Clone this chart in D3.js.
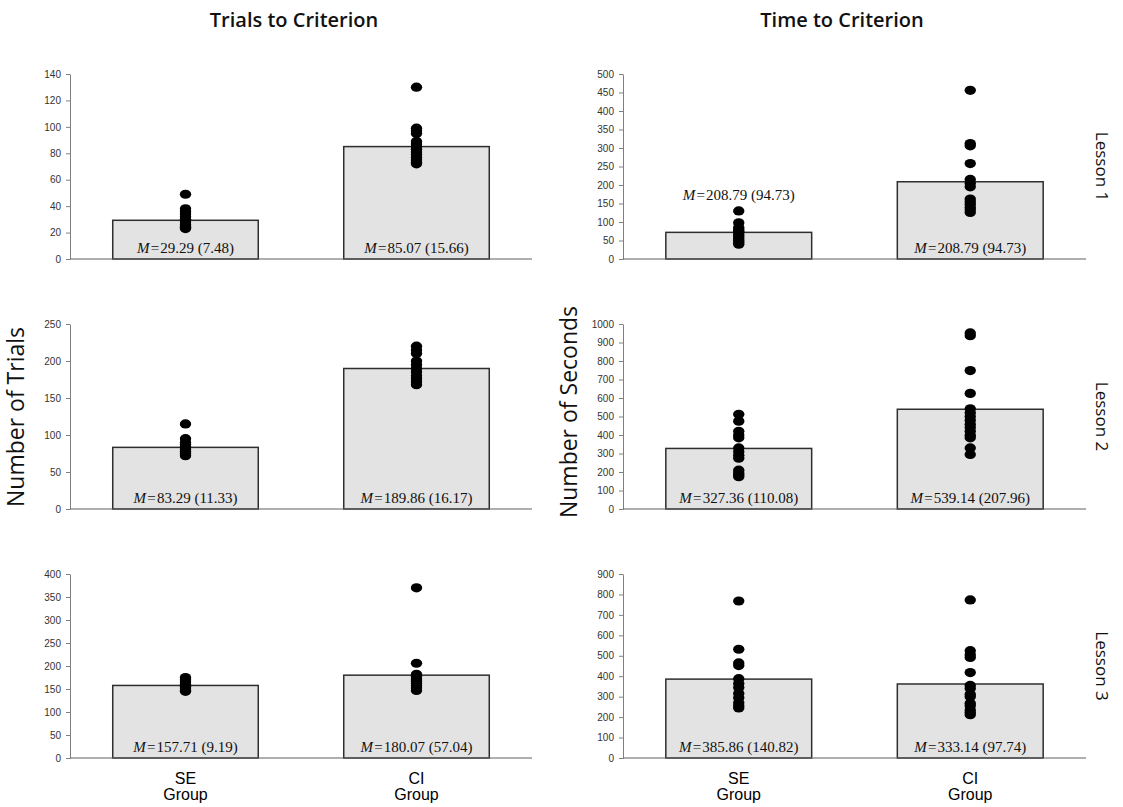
<!DOCTYPE html>
<html>
<head>
<meta charset="utf-8">
<script src="https://cdn.jsdelivr.net/npm/d3@7"></script>
<style>
    body { margin: 0; background: #fff; }
    .axis text { font: 10px "Liberation Sans", Arial, sans-serif; fill: #333; }
    .axis path, .axis line { stroke: #808080; }
</style>
</head>
<body>
<div id="chart"></div>
<script>
const groups = ["SE", "CI"]
const lessons = ["Lesson 1", "Lesson 2", "Lesson 3"]
const columns = ["Trials to Criterion", "Time to Criterion"]
const y_titles = ["Number of Trials", "Number of Seconds"]

// y axis max and tick step per lesson
const trials_max = [140, 250, 400]
const trials_step = [20, 50, 50]
const time_max = [500, 1000, 900]
const time_step = [50, 100, 100]

// bar heights (SE, CI)
const trials_bars = [[29.29, 85.07], [83.29, 189.86], [157.71, 180.07]]
const time_bars = [[72, 208.79], [327.36, 539.14], [385.86, 362]]

// mean (sd) text inside each bar
const trials_text = [["29.29 (7.48)", "85.07 (15.66)"], ["83.29 (11.33)", "189.86 (16.17)"], ["157.71 (9.19)", "180.07 (57.04)"]]
const time_text = [[null, "208.79 (94.73)"], ["327.36 (110.08)", "539.14 (207.96)"], ["385.86 (140.82)", "333.14 (97.74)"]]
// label printed above the SE bar instead (lesson 1 time panel)
const time_extra_text = ["208.79 (94.73)", null, null]

// individual scores
const trials1_se = [49, 38, 36, 34, 32, 30, 28, 26, 25, 24, 23]
const trials1_ci = [130, 99, 97, 95, 89, 87, 85, 83, 81, 79, 77, 75, 73, 72]
const trials2_se = [115, 95, 90, 87, 84, 81, 78, 75, 72]
const trials2_ci = [220, 215, 210, 200, 195, 190, 185, 180, 176, 172, 168]
const trials3_se = [175, 170, 165, 160, 156, 152, 148, 145]
const trials3_ci = [370, 206, 182, 177, 172, 167, 162, 157, 152, 147]

const time1_se = [130, 98, 85, 80, 75, 70, 65, 60, 55, 50, 45, 40]
const time1_ci = [456, 312, 306, 258, 215, 205, 195, 162, 155, 148, 140, 133, 126]
const time2_se = [512, 475, 420, 400, 385, 330, 310, 290, 275, 210, 195, 185, 175]
const time2_ci = [952, 937, 748, 625, 542, 520, 500, 480, 458, 440, 420, 398, 385, 330, 295]
const time3_se = [768, 532, 465, 452, 388, 365, 345, 315, 295, 270, 255, 245]
const time3_ci = [773, 525, 505, 492, 418, 355, 340, 312, 300, 268, 255, 235, 222, 212]

const trials_dots = [[trials1_se, trials1_ci], [trials2_se, trials2_ci], [trials3_se, trials3_ci]]
const time_dots = [[time1_se, time1_ci], [time2_se, time2_ci], [time3_se, time3_ci]]

const width = 1123, height = 807
const serif_font = "15px 'Liberation Serif', 'Times New Roman', serif"

const svg = d3.select("#chart").append("svg")
    .attr("width", width)
    .attr("height", height)

// panel frames: x range of each column, y range (bottom, top) of each row
const col_x = [[70, 532], [623, 1086]]
const row_y = [[259, 74], [509, 324], [758, 574]]

function mean_label(g, cx, cy, txt) {
    const t = g.append("text")
        .attr("x", cx)
        .attr("y", cy)
        .attr("text-anchor", "middle")
        .style("font", serif_font)
        .attr("fill", "#111")
    t.append("tspan").style("font-style", "italic").text("M")
    t.append("tspan").text("\u200a=\u200a" + txt)
}

function draw_panel(col, row, ymax, ystep, bars, texts, dots, extra) {
    const g = svg.append("g")

    const x = d3.scaleBand()
        .domain(groups)
        .range(col_x[col])
        .paddingInner(0.37)
        .paddingOuter(0.185)

    const y = d3.scaleLinear()
        .domain([0, ymax])
        .range(row_y[row])

    g.selectAll("rect.bar")
        .data(groups)
        .enter()
        .append("rect")
        .attr("class", "bar")
        .attr("x", d => x(d))
        .attr("y", (d, i) => y(bars[i]))
        .attr("width", x.bandwidth())
        .attr("height", (d, i) => y(0) - y(bars[i]))
        .attr("fill", "#e3e3e3")
        .attr("stroke", "#2e2e2e")
        .attr("stroke-width", 1.5)

    const yaxis = d3.axisLeft(y)
        .tickValues(d3.range(0, ymax + 1, ystep))
        .tickFormat(d3.format("d"))
        .tickSize(4)
        .tickSizeOuter(0)
        .tickPadding(5)

    g.append("g")
        .attr("class", "axis")
        .attr("transform", "translate(" + col_x[col][0] + ",0)")
        .call(yaxis)

    g.append("line")
        .attr("x1", col_x[col][0])
        .attr("x2", col_x[col][1])
        .attr("y1", y(0))
        .attr("y2", y(0))
        .attr("stroke", "#606060")
        .attr("stroke-width", 1.2)

    groups.forEach((grp, i) => {
        const cx = x(grp) + x.bandwidth() / 2
        g.selectAll("ellipse.g" + i)
            .data(dots[i])
            .enter()
            .append("ellipse")
            .attr("class", "g" + i)
            .attr("cx", cx)
            .attr("cy", d => y(d))
            .attr("rx", 5.7)
            .attr("ry", 4.6)
            .attr("fill", "#000")

        if (texts[i]) mean_label(g, cx, y(0) - 6, texts[i])
    })

    // the stray label over the SE bar
    if (extra) {
        mean_label(g, x("SE") + x.bandwidth() / 2, y(d3.max(dots[0])) - 11, extra)
    }

    // group names under the bottom row
    if (row === 2) {
        groups.forEach(grp => {
            const cx = x(grp) + x.bandwidth() / 2
            g.append("text")
                .attr("x", cx)
                .attr("y", y(0) + 26)
                .attr("text-anchor", "middle")
                .style("font", "16px 'Liberation Sans', Arial, sans-serif")
                .text(grp)
            g.append("text")
                .attr("x", cx)
                .attr("y", y(0) + 42)
                .attr("text-anchor", "middle")
                .style("font", "16px 'Liberation Sans', Arial, sans-serif")
                .text("Group")
        })
    }
}

lessons.forEach((lesson, r) => {
    draw_panel(0, r, trials_max[r], trials_step[r], trials_bars[r], trials_text[r], trials_dots[r], null)
    draw_panel(1, r, time_max[r], time_step[r], time_bars[r], time_text[r], time_dots[r], time_extra_text[r])

    // lesson label on the right, rotated clockwise
    const cy = (row_y[r][0] + row_y[r][1]) / 2
    svg.append("text")
        .attr("text-anchor", "middle")
        .attr("transform", "translate(1096," + cy + ")rotate(90)")
        .style("font", "17px 'Open Sans', sans-serif")
        .attr("fill", "#111")
        .text(lesson)
})

// column titles
svg.append("text")
    .attr("x", 294)
    .attr("y", 27)
    .attr("text-anchor", "middle")
    .style("font", "600 20px 'Open Sans', sans-serif")
    .attr("fill", "#111")
    .text(columns[0])

svg.append("text")
    .attr("x", 842)
    .attr("y", 27)
    .attr("text-anchor", "middle")
    .style("font", "600 20px 'Open Sans', sans-serif")
    .attr("fill", "#111")
    .text(columns[1])

// y axis titles
svg.append("text")
    .attr("text-anchor", "middle")
    .attr("transform", "translate(24,417)rotate(-90)")
    .style("font", "23px 'Open Sans', sans-serif")
    .attr("fill", "#111")
    .text(y_titles[0])

svg.append("text")
    .attr("text-anchor", "middle")
    .attr("transform", "translate(577,412)rotate(-90)")
    .style("font", "23px 'Open Sans', sans-serif")
    .attr("fill", "#111")
    .text(y_titles[1])
</script>
</body>
</html>
